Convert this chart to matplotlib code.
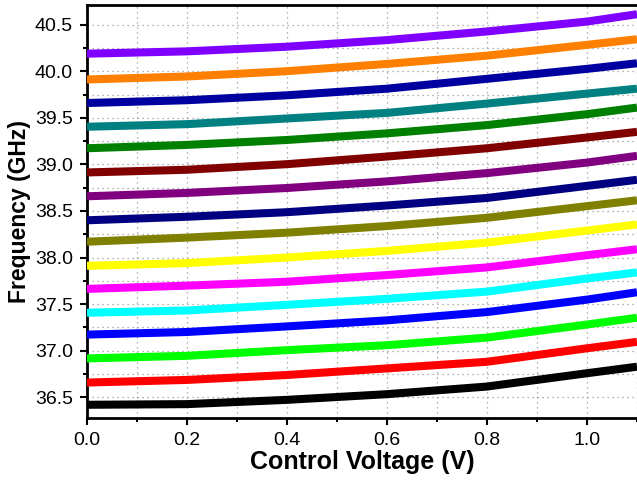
import matplotlib
matplotlib.use("Agg")
import matplotlib.pyplot as plt
from matplotlib.ticker import MultipleLocator, FormatStrFormatter

voltage = [0.0, 0.2, 0.4, 0.6, 0.8, 1.0, 1.1]

colors = ["#000000", "#ff0000", "#00ff00", "#0000ff", "#00ffff", "#ff00ff",
          "#ffff00", "#808000", "#000080", "#800080", "#800000", "#008000",
          "#008080", "#0000a0", "#ff8000", "#8000ff"]

freq_black   = [36.418, 36.425, 36.471, 36.532, 36.614, 36.757, 36.827]
freq_red     = [36.657, 36.685, 36.738, 36.809, 36.880, 37.025, 37.094]
freq_lime    = [36.916, 36.944, 37.005, 37.058, 37.140, 37.280, 37.353]
freq_blue    = [37.172, 37.200, 37.260, 37.325, 37.414, 37.548, 37.627]
freq_cyan    = [37.407, 37.431, 37.492, 37.556, 37.634, 37.775, 37.840]
freq_magenta = [37.663, 37.698, 37.740, 37.812, 37.894, 38.025, 38.089]
freq_yellow  = [37.911, 37.940, 38.000, 38.071, 38.160, 38.290, 38.355]
freq_olive   = [38.170, 38.214, 38.267, 38.338, 38.427, 38.552, 38.615]
freq_navy    = [38.400, 38.438, 38.487, 38.559, 38.640, 38.770, 38.835]
freq_purple  = [38.658, 38.694, 38.747, 38.818, 38.907, 39.020, 39.092]
freq_maroon  = [38.914, 38.943, 39.003, 39.085, 39.174, 39.290, 39.350]
freq_green   = [39.174, 39.210, 39.263, 39.334, 39.423, 39.540, 39.611]
freq_teal    = [39.405, 39.433, 39.494, 39.554, 39.654, 39.761, 39.814]
freq_dblue   = [39.660, 39.690, 39.743, 39.814, 39.920, 40.027, 40.087]
freq_orange  = [39.913, 39.945, 40.002, 40.080, 40.169, 40.285, 40.345]
freq_violet  = [40.190, 40.215, 40.265, 40.336, 40.429, 40.535, 40.614]

series = [freq_black, freq_red, freq_lime, freq_blue, freq_cyan, freq_magenta,
          freq_yellow, freq_olive, freq_navy, freq_purple, freq_maroon,
          freq_green, freq_teal, freq_dblue, freq_orange, freq_violet]

plt.rcParams['font.family'] = ['Liberation Sans', 'DejaVu Sans']

fig = plt.figure(figsize=(6.37, 4.83), dpi=100)
ax = fig.add_axes([87/637, 65/483, 550/637, 413/483])

for ys, c in zip(series, colors):
    ax.plot(voltage, ys, color=c, lw=5.8, solid_capstyle='butt',
            solid_joinstyle='round', zorder=3)

ax.set_xlim(0, 1.1)
ax.set_ylim(36.276, 40.713)
ax.xaxis.set_major_locator(MultipleLocator(0.2))
ax.xaxis.set_minor_locator(MultipleLocator(0.1))
ax.yaxis.set_major_locator(MultipleLocator(0.5))
ax.yaxis.set_minor_locator(MultipleLocator(0.25))
ax.xaxis.set_major_formatter(FormatStrFormatter('%.1f'))
ax.yaxis.set_major_formatter(FormatStrFormatter('%.1f'))

ax.grid(True, which='both', linestyle=(0, (1, 3)), color='#999999', lw=0.9, zorder=0)
ax.tick_params(which='major', direction='out', length=5, width=1.5, labelsize=14, pad=5)
ax.tick_params(which='minor', direction='out', length=3, width=1.5)
ax.tick_params(axis='x', which='both', top=False)
ax.tick_params(axis='y', which='both', right=False)

for s in ['left', 'bottom', 'top']:
    ax.spines[s].set_linewidth(2)
ax.spines['right'].set_visible(False)

ax.set_xlabel('Control Voltage (V)', fontsize=18, fontweight='bold', labelpad=1)
ax.set_ylabel('Frequency (GHz)', fontsize=16.5, fontweight='bold', labelpad=3)

fig.savefig('out.png', dpi=100)
